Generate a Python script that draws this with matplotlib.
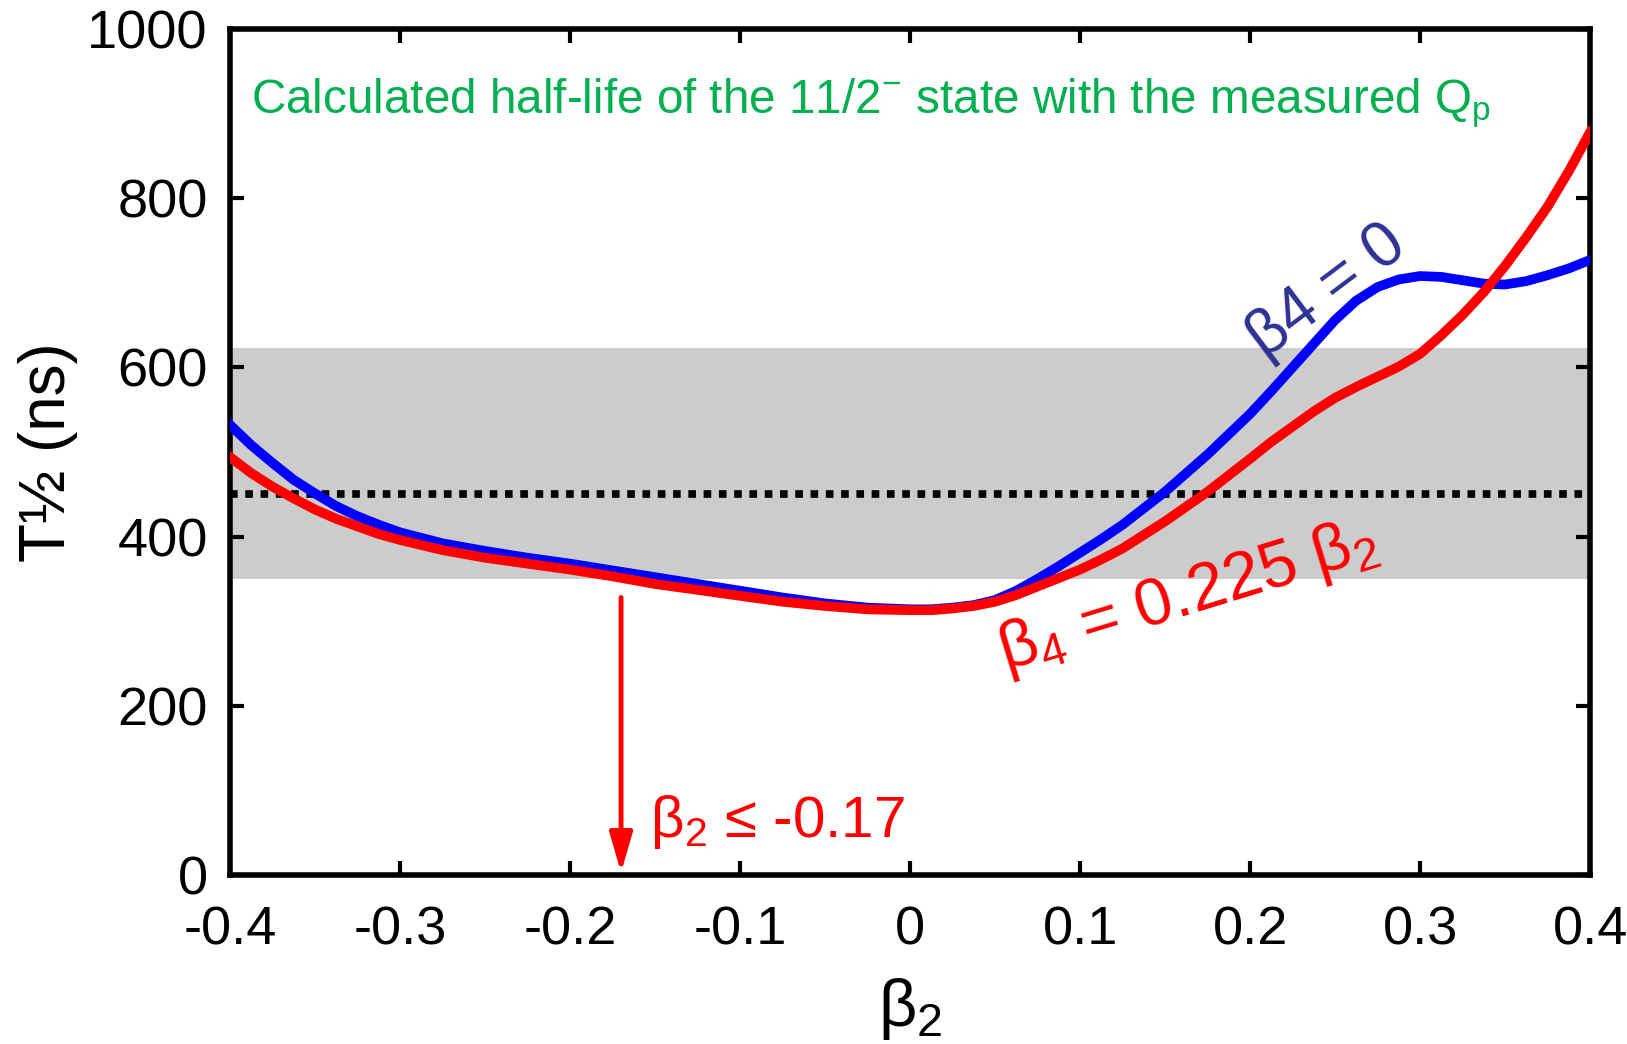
import matplotlib
matplotlib.use("Agg")
import matplotlib.pyplot as plt

plt.rcParams['font.family'] = ['Liberation Sans', 'DejaVu Sans']
plt.rcParams['mathtext.fontset'] = 'custom'
plt.rcParams['mathtext.rm'] = 'Liberation Sans'
plt.rcParams['mathtext.it'] = 'Liberation Sans:italic'
plt.rcParams['axes.unicode_minus'] = False

# deformation beta2 and calculated half-lives (ns)
beta2 = [-0.4000, -0.3875, -0.3750, -0.3625, -0.3500, -0.3375, -0.3250, -0.3125,
         -0.3000, -0.2750, -0.2500, -0.2250, -0.2000, -0.1750, -0.1500, -0.1250,
         -0.1000, -0.0750, -0.0500, -0.0250, 0.0000, 0.0125, 0.0250, 0.0375,
         0.0500, 0.0625, 0.0750, 0.0875, 0.1000, 0.1125, 0.1250, 0.1500,
         0.1750, 0.2000, 0.2125, 0.2250, 0.2375, 0.2500, 0.2625, 0.2750,
         0.2875, 0.3000, 0.3125, 0.3250, 0.3375, 0.3500, 0.3625, 0.3750,
         0.3875, 0.4000]
t_half_b4_zero = [532, 508, 487, 467, 451, 436, 424, 414,
                  405, 392, 383, 375, 368, 360, 352, 344,
                  336, 328, 321, 316, 314, 314, 316, 319,
                  325, 336, 350, 365, 381, 397, 414, 453,
                  497, 545, 572, 600, 628, 656, 679, 695,
                  704, 708, 707, 703, 699, 698, 702, 709,
                  717, 727]
t_half_b4_prop = [494, 475, 459, 445, 432, 421, 412, 403,
                  396, 384, 375, 368, 361, 353, 344, 337,
                  330, 323, 318, 314, 313, 313, 315, 318,
                  323, 331, 341, 351, 361, 373, 386, 418,
                  453, 492, 512, 530, 548, 564, 577, 589,
                  601, 616, 638, 662, 689, 720, 754, 790,
                  832, 878]

# measured half-life with its error band
t_meas = 450
t_band = (350, 623)
beta2_limit = -0.17

xticks = [-0.4, -0.3, -0.2, -0.1, 0, 0.1, 0.2, 0.3, 0.4]
xtick_labels = ['-0.4', '-0.3', '-0.2', '-0.1', '0', '0.1', '0.2', '0.3', '0.4']
yticks = [0, 200, 400, 600, 800, 1000]

fig = plt.figure(figsize=(16.27, 10.44), dpi=100)
ax = fig.add_axes([0.1414, 0.1619, 0.8359, 0.8103])

ax.axhspan(t_band[0], t_band[1], color='#cccccc', lw=0, zorder=0)
ax.axhline(t_meas, color='black', lw=5.5, ls=(0, (1, 1)), zorder=1)

ax.plot(beta2, t_half_b4_zero, color='#0000ff', lw=7, zorder=3,
        solid_joinstyle='round')
ax.plot(beta2, t_half_b4_prop, color='#ff0000', lw=7, zorder=4,
        solid_joinstyle='round')

# upper limit on beta2
ax.annotate('', xy=(beta2_limit, 3), xytext=(beta2_limit, 328),
            arrowprops=dict(arrowstyle='-|>,head_length=1.2,head_width=0.35',
                            color='#ff0000', lw=3.5, shrinkA=0, shrinkB=0,
                            mutation_scale=20), zorder=5)
ax.text(-0.153, 45, r'β$_2$ ≤ -0.17', color='#ff0000', fontsize=42,
        ha='left', va='baseline')

ax.text(0.245, 690, 'β4 = 0', color='#2e3192', fontsize=46, rotation=37,
        rotation_mode='anchor', ha='center', va='center')
ax.text(0.1635, 329, r'β$_4$ = 0.225 β$_2$', color='#ff0000', fontsize=48,
        rotation=17, rotation_mode='anchor', ha='center', va='center')

ax.text(-0.3876, 901, r'Calculated half-life of the 11/2$^{-}$ state with the measured Q$_\mathrm{p}$',
        color='#00b050', fontsize=34.3, ha='left', va='baseline')

ax.set_xlim(-0.4, 0.4)
ax.set_ylim(0, 1000)
ax.set_xticks(xticks)
ax.set_xticklabels(xtick_labels)
ax.set_yticks(yticks)
ax.tick_params(direction='in', length=10, width=3, top=True, right=True,
               labelsize=39)
ax.tick_params(axis='x', pad=22)
ax.tick_params(axis='y', pad=16)
for s in ax.spines.values():
    s.set_linewidth(4)

ax.set_xlabel(r'β$_2$', fontsize=48)
ax.set_ylabel('T½ (ns)', fontsize=46)
ax.xaxis.set_label_coords(0.5, -0.12)
ax.yaxis.set_label_coords(-0.112, 0.5)

fig.savefig('out.png', dpi=100)
